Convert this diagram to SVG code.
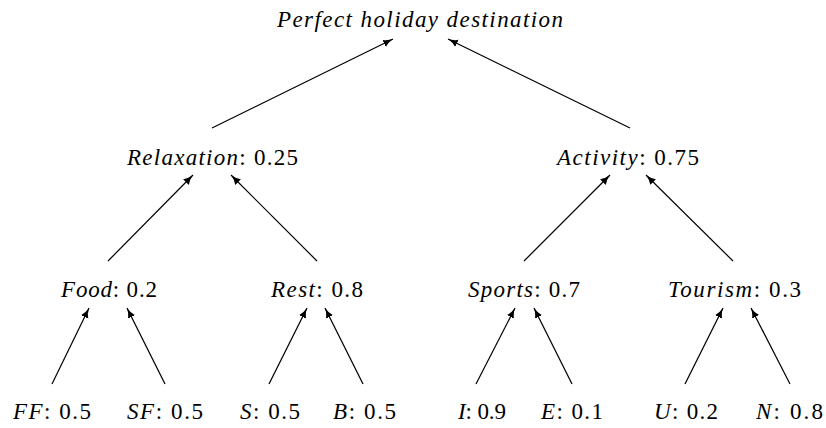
<svg xmlns="http://www.w3.org/2000/svg" width="826" height="428" viewBox="0 0 826 428">
  <style>
    .edge { stroke: #000; stroke-width: 1.2; fill: none; marker-end: url(#arrow); }
  </style>
  <defs>
    <marker id="arrow" markerUnits="userSpaceOnUse" markerWidth="12" markerHeight="10" refX="10" refY="4" orient="auto">
      <path d="M0,0 Q4,3 10,4 Q4,5 0,8 Z" fill="#000"/>
    </marker>
  </defs>

  <rect width="826" height="428" fill="#fff"/>

  <g id="connectors">
    <!-- level 1 to root -->
    <line class="edge" x1="212" y1="128" x2="393" y2="39"/>
    <line class="edge" x1="630" y1="128" x2="448" y2="39"/>
    <!-- level 2 to level 1 -->
    <line class="edge" x1="108" y1="261" x2="193" y2="175"/>
    <line class="edge" x1="317" y1="261" x2="231" y2="175"/>
    <line class="edge" x1="524" y1="261" x2="610" y2="175"/>
    <line class="edge" x1="733" y1="261" x2="646" y2="175"/>
    <!-- leaves to level 2 -->
    <line class="edge" x1="52" y1="384" x2="89" y2="308"/>
    <line class="edge" x1="165" y1="384" x2="127" y2="308"/>
    <line class="edge" x1="269" y1="384" x2="307" y2="308"/>
    <line class="edge" x1="363" y1="384" x2="325" y2="308"/>
    <line class="edge" x1="476" y1="384" x2="515" y2="308"/>
    <line class="edge" x1="572" y1="384" x2="534" y2="308"/>
    <line class="edge" x1="685" y1="384" x2="723" y2="308"/>
    <line class="edge" x1="790" y1="384" x2="751" y2="308"/>
  </g>

  <g id="labels" font-family="Liberation Serif, serif" font-size="23" fill="#000" text-anchor="middle">
    <g id="root">
      <text x="420" y="27" font-style="italic" textLength="286" lengthAdjust="spacing">Perfect holiday destination</text>
    </g>

    <g id="relaxation">
      <text x="212.5" y="165" textLength="171" lengthAdjust="spacing"><tspan font-style="italic">Relaxation</tspan>: 0.25</text>
    </g>
    <g id="activity">
      <text x="628" y="165" textLength="142" lengthAdjust="spacing"><tspan font-style="italic">Activity</tspan>: 0.75</text>
    </g>

    <g id="food">
      <text x="109" y="297" textLength="96" lengthAdjust="spacing"><tspan font-style="italic">Food</tspan>: 0.2</text>
    </g>
    <g id="rest">
      <text x="317" y="297" textLength="92" lengthAdjust="spacing"><tspan font-style="italic">Rest</tspan>: 0.8</text>
    </g>
    <g id="sports">
      <text x="524" y="297" textLength="112" lengthAdjust="spacing"><tspan font-style="italic">Sports</tspan>: 0.7</text>
    </g>
    <g id="tourism">
      <text x="734.5" y="297" textLength="133" lengthAdjust="spacing"><tspan font-style="italic">Tourism</tspan>: 0.3</text>
    </g>

    <g id="ff">
      <text x="52" y="419" textLength="78" lengthAdjust="spacing"><tspan font-style="italic">FF</tspan>: 0.5</text>
    </g>
    <g id="sf">
      <text x="165" y="419" textLength="76" lengthAdjust="spacing"><tspan font-style="italic">SF</tspan>: 0.5</text>
    </g>
    <g id="s">
      <text x="270" y="419" textLength="60" lengthAdjust="spacing"><tspan font-style="italic">S</tspan>: 0.5</text>
    </g>
    <g id="b">
      <text x="364.5" y="419" textLength="63" lengthAdjust="spacing"><tspan font-style="italic">B</tspan>: 0.5</text>
    </g>
    <g id="i">
      <text x="482" y="419" textLength="48" lengthAdjust="spacing"><tspan font-style="italic">I</tspan>: 0.9</text>
    </g>
    <g id="e">
      <text x="572" y="419" textLength="62" lengthAdjust="spacing"><tspan font-style="italic">E</tspan>: 0.1</text>
    </g>
    <g id="u">
      <text x="686" y="419" textLength="64" lengthAdjust="spacing"><tspan font-style="italic">U</tspan>: 0.2</text>
    </g>
    <g id="n">
      <text x="789.5" y="419" textLength="67" lengthAdjust="spacing"><tspan font-style="italic">N</tspan>: 0.8</text>
    </g>
  </g>
</svg>
